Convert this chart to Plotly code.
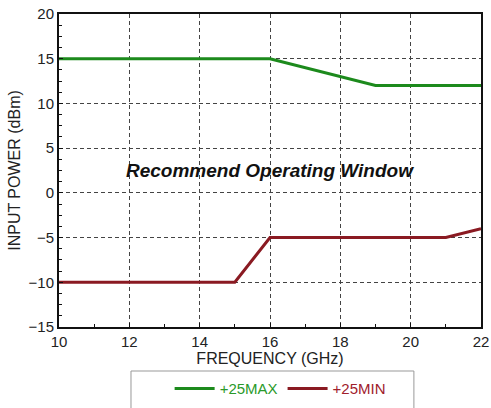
import plotly.graph_objects as go

freq_max = [10, 16, 19, 22]
pwr_max = [15, 15, 12, 12]
freq_min = [10, 15, 16, 21, 22]
pwr_min = [-10, -10, -5, -5, -4]
x_ticks = [10, 12, 14, 16, 18, 20, 22]
y_ticks = [-15, -10, -5, 0, 5, 10, 15, 20]

fig = go.Figure()
fig.add_trace(go.Scatter(x=freq_max, y=pwr_max, mode="lines",
                         line=dict(color="#1c8a1c", width=3),
                         name="<span style='color:#2a9a2a'>+25MAX</span>"))
fig.add_trace(go.Scatter(x=freq_min, y=pwr_min, mode="lines",
                         line=dict(color="#8a1a22", width=3),
                         name="<span style='color:#a0202c'>+25MIN</span>"))

fig.add_annotation(x=16, y=2.5, text="<b><i>Recommend Operating Window</i></b>",
                   showarrow=False, font=dict(size=19, color="#111111",
                                              family="Liberation Sans, Arial"))

axis_common = dict(showline=True, linecolor="#111111", linewidth=2, mirror=True,
                   showgrid=True, gridcolor="#444444", griddash="4px,3px", gridwidth=1,
                   ticks="inside", ticklen=4, tickcolor="#111111", zeroline=False,
                   automargin=False,
                   tickfont=dict(size=15, color="#222222"))

fig.update_xaxes(range=[10, 22], tickvals=x_ticks,
                 title=dict(text="FREQUENCY (GHz)", font=dict(size=16, color="#222222"), standoff=2),
                 minor=dict(ticks="inside", ticklen=3, dtick=1, tickcolor="#111111", showgrid=False),
                 **axis_common)
fig.update_yaxes(range=[-15, 20], tickvals=y_ticks,
                 title=dict(text="INPUT POWER (dBm)", font=dict(size=16, color="#222222"), standoff=4),
                 minor=dict(ticks="inside", ticklen=3, dtick=1.25, tickcolor="#111111", showgrid=False),
                 **axis_common)

# legend frame
fig.add_shape(type="rect", xref="paper", yref="paper",
              x0=0.1706, x1=0.841, y0=-0.40, y1=-0.1406,
              line=dict(color="#999999", width=1), fillcolor="white", layer="below")

fig.update_layout(
    width=491, height=408,
    margin=dict(l=59, r=10, t=14, b=81),
    plot_bgcolor="white", paper_bgcolor="white",
    font=dict(family="Liberation Sans, Arial", size=15, color="#222222"),
    legend=dict(orientation="h", x=0.524, xanchor="center",
                yref="container", y=0.047, yanchor="middle",
                borderwidth=0, bgcolor="rgba(0,0,0,0)",
                font=dict(size=15), itemwidth=40, tracegroupgap=0),
)

fig.write_html("out.html")
